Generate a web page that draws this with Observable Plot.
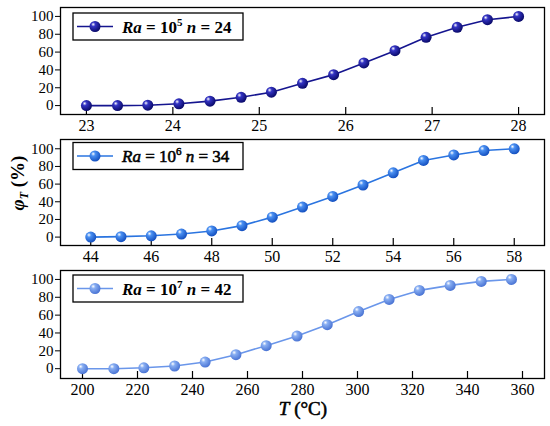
<!DOCTYPE html>
<html>
<head>
<meta charset="utf-8">
<script src="https://cdn.jsdelivr.net/npm/d3@7"></script>
<script src="https://cdn.jsdelivr.net/npm/@observablehq/plot@0.6"></script>
<style>
  body { margin: 0; background: white; }
  #chart svg { display: block; }
</style>
</head>
<body>
<div id="chart"></div>
<script>
// ---- Data ----
const yTicks = [0, 20, 40, 60, 80, 100];

const x1 = [23.0, 23.36, 23.71, 24.07, 24.43, 24.79, 25.14, 25.5, 25.86, 26.21, 26.57, 26.93, 27.29, 27.64, 28.0];
const y1 = [0, 0, 0.4, 2, 5, 9.3, 15, 25, 34.7, 47.8, 61.6, 76.6, 87.8, 96.3, 100];
const xTicks1 = [23, 24, 25, 26, 27, 28];

const x2 = [44, 45, 46, 47, 48, 49, 50, 51, 52, 53, 54, 55, 56, 57, 58];
const y2 = [0, 0.5, 1.5, 3.5, 7, 13, 22.6, 34, 46, 59, 72.8, 86.8, 93, 98, 100];
const xTicks2 = [44, 46, 48, 50, 52, 54, 56, 58];

const x3 = [200, 211.4, 222.3, 233.5, 244.6, 255.8, 266.8, 278, 289, 300.4, 311.5, 322.5, 333.7, 345, 356];
const y3 = [0, 0, 1, 3, 7.4, 15.7, 25.8, 36.5, 49.3, 64, 77.6, 87.7, 93.3, 97.8, 100];
const xTicks3 = [200, 220, 240, 260, 280, 300, 320, 340, 360];

const raExponents = [5, 6, 7];
const nValues = [24, 34, 42];

const FONT = "Liberation Serif";

function boldify(sel, mode) {
  if (mode === "attr") sel.attr("font-weight", "bold");
  else if (mode === "stroke") sel.attr("stroke", "black").attr("stroke-width", 0.55).attr("paint-order", "stroke");
  else sel.style("font-weight", "700").style("font-family", FONT);
}

function panel(cfg) {
  const data = cfg.xs.map((x, i) => ({x, y: cfg.ys[i]}));
  const innerH = cfg.height - cfg.marginTop - cfg.marginBottom;
  const svg = Plot.plot({
    width: 550,
    height: cfg.height,
    marginLeft: 60,
    marginRight: 6,
    marginTop: cfg.marginTop,
    marginBottom: cfg.marginBottom,
    style: {fontFamily: FONT, color: "black", background: "white", overflow: "visible"},
    x: {domain: cfg.xDomain},
    y: {domain: cfg.yDomain},
    marks: [
      Plot.frame({stroke: "black", strokeWidth: 1.3}),
      Plot.axisY(yTicks, {tickSize: 5, tickPadding: 2, label: null, fontSize: 15, ...cfg.axisFont}),
      Plot.axisX(cfg.xTicks, {tickSize: 0, tickPadding: 5, label: null, fontSize: 16, ...cfg.axisFont}),
      Plot.tickX(cfg.xTicks, {x: d => d, insetTop: innerH - 7, stroke: "black", strokeWidth: 1.2}),
      Plot.line(data, {x: "x", y: "y", stroke: cfg.color, strokeWidth: 1.6}),
      Plot.dot(data, {x: "x", y: "y", r: 5.5, fill: `url(#${cfg.gid})`})
    ]
  });
  const s = d3.select(svg);
  const grad = s.append("defs").append("radialGradient")
    .attr("id", cfg.gid).attr("cx", "0.38").attr("cy", "0.35").attr("r", "0.65")
    .attr("fx", "0.33").attr("fy", "0.3");
  grad.append("stop").attr("offset", "0").attr("stop-color", "#ffffff");
  grad.append("stop").attr("offset", "0.3").attr("stop-color", cfg.light);
  grad.append("stop").attr("offset", "1").attr("stop-color", cfg.dark);

  // legend
  const lt = cfg.marginTop + cfg.legendOffset;
  const g = s.append("g");
  g.append("rect").attr("x", 73).attr("y", lt).attr("width", 170).attr("height", 27)
    .attr("fill", "white").attr("stroke", "black").attr("stroke-width", 1.3);
  const cy = lt + 13.5;
  g.append("line").attr("x1", 77).attr("x2", 113).attr("y1", cy).attr("y2", cy)
    .attr("stroke", cfg.color).attr("stroke-width", 1.6);
  g.append("circle").attr("cx", 95).attr("cy", cy).attr("r", 5.5).attr("fill", `url(#${cfg.gid})`);
  const t = g.append("text").attr("x", 122).attr("y", cy + 6).attr("text-anchor", "start")
    .attr("font-size", 17).attr("fill", "black");
  boldify(t, cfg.boldMode);
  t.append("tspan").attr("font-style", "italic").text("Ra");
  t.append("tspan").text(" = 10");
  t.append("tspan").attr("font-size", 11).attr("dy", -7).text(cfg.exp);
  t.append("tspan").attr("dy", 7).attr("font-style", "italic").text(" n");
  t.append("tspan").text(" = " + cfg.n);
  return svg;
}

const chart = document.getElementById("chart");

const p1 = panel({xs: x1, ys: y1, xTicks: xTicks1, xDomain: [22.7, 28.3], yDomain: [-10, 110],
  height: 132, marginTop: 7, marginBottom: 18, color: "#15158f", light: "#3434c4", dark: "#0a0a6a",
  gid: "g1", legendOffset: 6, exp: raExponents[0], n: nValues[0],
  axisFont: {fontVariant: "normal"}, boldMode: "attr"});
const p2 = panel({xs: x2, ys: y2, xTicks: xTicks2, xDomain: [43, 59], yDomain: [-9.5, 110.5],
  height: 136, marginTop: 7, marginBottom: 23, color: "#2a74e0", light: "#4a90f2", dark: "#1450c0",
  gid: "g2", legendOffset: 3.5, exp: raExponents[1], n: nValues[1],
  axisFont: {fontFamily: FONT}, boldMode: "stroke"});
const p3 = panel({xs: x3, ys: y3, xTicks: xTicks3, xDomain: [192, 368], yDomain: [-11, 110],
  height: 158, marginTop: 2, marginBottom: 48, color: "#6a96ea", light: "#88aef2", dark: "#4a74d4",
  gid: "g3", legendOffset: 5, exp: raExponents[2], n: nValues[2],
  axisFont: {fontFamily: FONT, fontVariant: "normal"}, boldMode: "style"});

// y label on panel 2
{
  const t = d3.select(p2).append("text")
    .attr("transform", "translate(24,51) rotate(-90)")
    .attr("text-anchor", "middle")
    .attr("font-size", 19).attr("font-weight", "bold").attr("fill", "black");
  t.append("tspan").attr("font-style", "italic").text("φ");
  t.append("tspan").attr("font-style", "italic").attr("font-size", 12).attr("dy", 4).text("T");
  t.append("tspan").attr("dy", -4).text(" (%)");
}
// x label on panel 3
{
  const t = d3.select(p3).append("text")
    .attr("x", 303).attr("y", 147)
    .attr("text-anchor", "middle")
    .attr("font-size", 19).attr("fill", "black")
    .attr("stroke", "black").attr("stroke-width", 0.55);
  t.append("tspan").attr("font-style", "italic").text("T");
  t.append("tspan").text(" (°C)");
}

chart.append(p1, p2, p3);
</script>
</body>
</html>
